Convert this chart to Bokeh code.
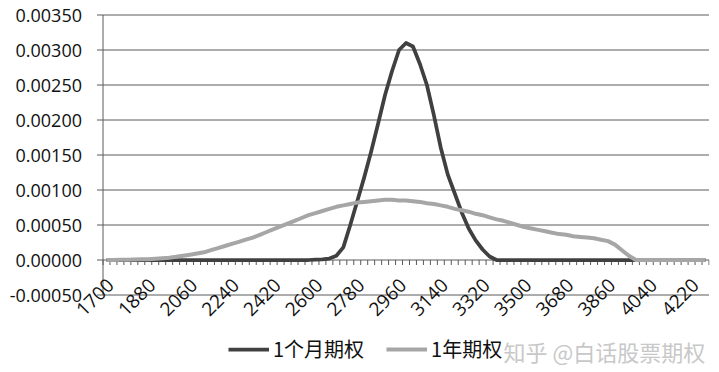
import math
from bokeh.plotting import figure
from bokeh.models import Range1d, Legend, LegendItem, Label
from bokeh.core.properties import value
from bokeh.embed import file_html
from bokeh.resources import INLINE

# ---- data ----
categories = list(range(1700, 4281, 30))          # 87 strike categories
label_ticks = [1700, 1880, 2060, 2240, 2420, 2600, 2780, 2960,
               3140, 3320, 3500, 3680, 3860, 4040, 4220]
y_ticks = [-0.0005, 0.0, 0.0005, 0.0010, 0.0015, 0.0020, 0.0025, 0.0030, 0.0035]

month_1 = [0.0] * 30 + [
    0.000005, 0.00001, 0.00002, 0.00006, 0.00018, 0.00050, 0.00084, 0.00118,
    0.00155, 0.00195, 0.00236, 0.00270, 0.00300, 0.00310, 0.00305, 0.00280,
    0.00250, 0.00207, 0.00160, 0.00122, 0.00095, 0.00068, 0.00045, 0.00028,
    0.00015, 0.00005] + [0.0] * 31

year_1 = [
    0.0, 0.0, 0.000002, 0.000004, 0.000006, 0.000009, 0.000012, 0.000017,
    0.000024, 0.000033, 0.000045, 0.00006, 0.000076, 0.000092, 0.00011, 0.00014,
    0.00017, 0.0002, 0.00023, 0.00026, 0.00029, 0.00032, 0.00036, 0.0004,
    0.00044, 0.00048, 0.00052, 0.00056, 0.0006, 0.00064, 0.00067, 0.0007,
    0.00073, 0.00076, 0.00078, 0.0008, 0.00082, 0.00083, 0.00084, 0.00085,
    0.00086, 0.00086, 0.00085, 0.00085, 0.00084, 0.00083, 0.00081, 0.0008,
    0.00078, 0.00076, 0.00073, 0.00071, 0.00069, 0.00066, 0.00064, 0.00061,
    0.00058, 0.00056, 0.00053, 0.0005, 0.00047, 0.00045, 0.00043, 0.00041,
    0.00039, 0.00037, 0.00036, 0.00034, 0.00033, 0.00032, 0.00031, 0.00029,
    0.00027, 0.00022, 0.00014, 0.00006, 0.0] + [0.0] * 10

series_names = ["1个月期权", "1年期权"]
watermark = "知乎 @白话股票期权"

# ---- layout constants (pixels) ----
W, H = 719, 372
axis_px = 102.5            # screen x of the value axis
right_px = 708.5           # screen x of the plot's right edge
top_px = 14.5              # screen y of the top gridline
band_px = 35.0             # pixels between gridlines
frame_w = 709

step = categories[1] - categories[0]
x_lo = categories[0] - step / 2
x_hi = categories[-1] + step / 2
sx = (right_px - axis_px) / (x_hi - x_lo)            # px per x unit
sy = band_px / (y_ticks[1] - y_ticks[0])              # px per y unit
x_start = x_lo - axis_px / sx
x_end = x_start + frame_w / sx
y_end = y_ticks[-1] + top_px / sy
y_start = y_end - H / sy

p = figure(width=W, height=H, output_backend="svg", toolbar_location=None,
           x_axis_location=None, y_axis_location=None,
           x_range=Range1d(x_start, x_end), y_range=Range1d(y_start, y_end),
           min_border_left=0, min_border_right=W - frame_w, min_border_top=0,
           min_border_bottom=0)
p.outline_line_color = None
p.background_fill_color = "white"
p.border_fill_color = "white"
p.xgrid.visible = False
p.ygrid.visible = False

grid_color = "#5a5a5a"
text_color = "#111111"
font = "Open Sans"

# gridlines (with their outward ticks on the value axis)
tick_out = 6 / sx
p.segment(x0=[x_lo - tick_out] * len(y_ticks), y0=y_ticks,
          x1=[x_hi] * len(y_ticks), y1=y_ticks, line_color=grid_color, line_width=1)
# value axis line
p.segment(x0=[x_lo], y0=[y_ticks[0]], x1=[x_lo], y1=[y_ticks[-1]],
          line_color=grid_color, line_width=1)
# value axis labels
p.text(x=[x_lo] * len(y_ticks), y=y_ticks, text=[f"{t:.5f}" for t in y_ticks],
       text_align="right", text_baseline="middle", x_offset=-21,
       text_font=value(font), text_font_size="18px", text_color=text_color)

# category axis at y = 0 with tick marks between categories
boundaries = [x_lo + step * k for k in range(len(categories) + 1)]
tick_len = 5 / sy
p.segment(x0=boundaries, y0=[0] * len(boundaries), x1=boundaries,
          y1=[-tick_len] * len(boundaries), line_color=grid_color, line_width=1)
p.text(x=label_ticks, y=[0] * len(label_ticks), text=[str(t) for t in label_ticks],
       angle=math.pi / 4, text_align="right", text_baseline="middle",
       x_offset=4, y_offset=22, text_font=value(font), text_font_size="19px",
       text_color=text_color)

# ---- lines ----
r1 = p.line(categories, month_1, line_color="#404040", line_width=3.75, line_join="round")
r2 = p.line(categories, year_1, line_color="#a6a6a6", line_width=4, line_join="round")

legend = Legend(items=[LegendItem(label=series_names[0], renderers=[r1]),
                       LegendItem(label=series_names[1], renderers=[r2])],
                location=(228, H - 363), orientation="horizontal",
                border_line_color=None, background_fill_alpha=0,
                padding=0, margin=0, spacing=22, glyph_width=41, glyph_height=20,
                label_standoff=4, label_height=20,
                label_text_font="Noto Sans CJK SC", label_text_font_size="20px",
                label_text_color=text_color)
p.add_layout(legend)

wm = Label(x=503, y=H - 350, x_units="screen", y_units="screen", text=watermark,
           text_font="Noto Sans CJK SC", text_font_size="22px", text_color="#c8c8c8",
           text_baseline="middle")
p.add_layout(wm)

open("out.html", "w").write(file_html(p, INLINE))
